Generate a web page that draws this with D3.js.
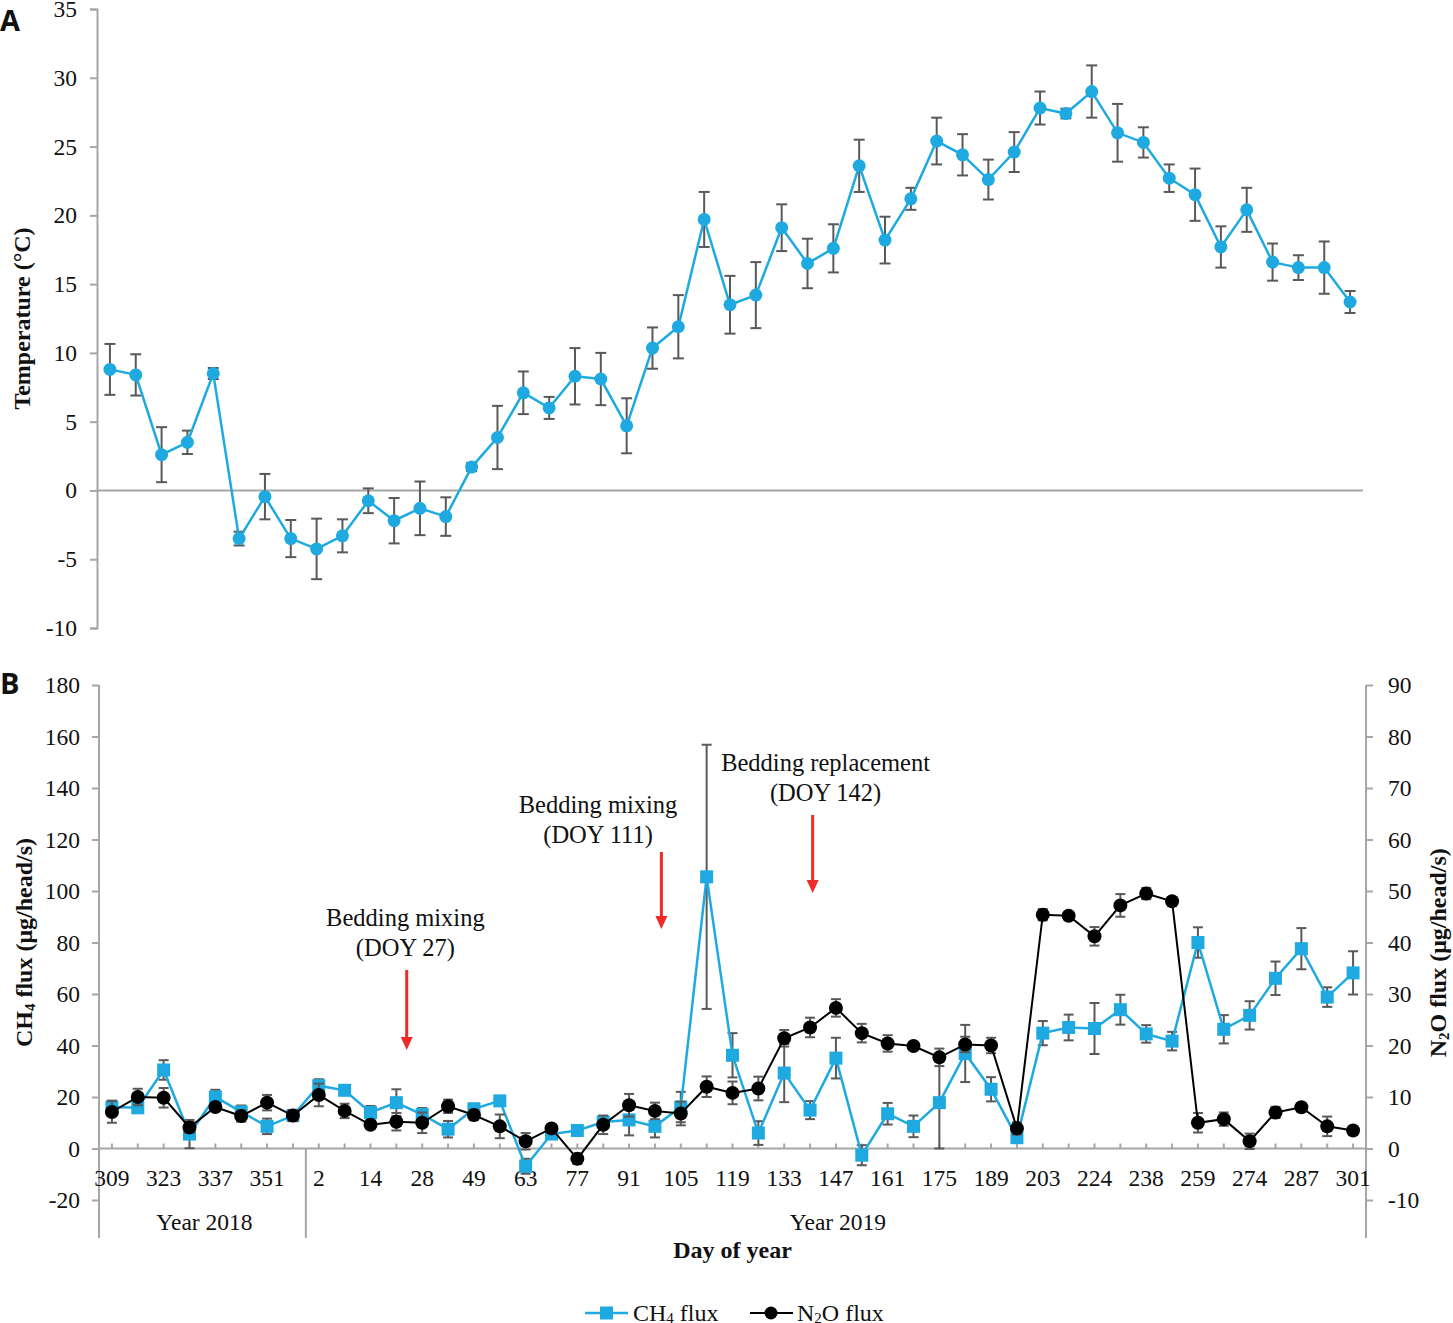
<!DOCTYPE html>
<html>
<head>
<meta charset="utf-8">
<script src="https://cdn.jsdelivr.net/npm/d3@7"></script>
<style>
  html, body { margin: 0; padding: 0; background: #fff; }
  svg { display: block; }
  svg text { font-family: "Liberation Serif", "Times New Roman", serif !important; fill: #111; }
  svg text.sans { font-family: "Open Sans", "DejaVu Sans", sans-serif !important; }
</style>
</head>
<body>
<svg id="chart" width="1453" height="1323"></svg>
<script>
// ---------------- DATA ----------------
const days = [309, 316, 323, 330, 337, 344, 351, 358,
              2, 8, 14, 21, 28, 35, 49, 56, 63, 70, 77, 84, 91, 98, 105, 112, 119, 126,
              133, 140, 147, 154, 161, 168, 175, 182, 189, 196, 203, 210, 224, 231, 238, 245,
              259, 266, 274, 280, 287, 294, 301];
const labeledDays = [309, 323, 337, 351, 2, 14, 28, 49, 63, 77, 91, 105, 119, 133, 147,
                     161, 175, 189, 203, 224, 238, 259, 274, 287, 301];
const yearGroups = ["Year 2018", "Year 2019"];
const yearSizes = [8, 41];

const temperature = [8.8, 8.4, 2.6, 3.5, 8.5, -3.5, -0.45, -3.5, -4.25, -3.3, -0.75, -2.2, -1.3, -1.9,
  1.7, 3.85, 7.1, 6.0, 8.3, 8.1, 4.7, 10.35, 11.9, 19.7, 13.5, 14.2, 19.1, 16.5, 17.6, 23.6, 18.2, 21.2,
  25.4, 24.4, 22.6, 24.6, 27.8, 27.4, 29.0, 26.0, 25.3, 22.7, 21.5, 17.7, 20.4, 16.6, 16.2, 16.2, 13.7];
const temperatureErr = [1.85, 1.5, 2.0, 0.85, 0.4, 0.5, 1.65, 1.35, 2.2, 1.2, 0.9, 1.65, 1.95, 1.4,
  0.3, 2.3, 1.55, 0.8, 2.05, 1.9, 2.0, 1.5, 2.3, 2.0, 2.1, 2.4, 1.7, 1.8, 1.75, 1.9, 1.7, 0.8,
  1.7, 1.5, 1.45, 1.45, 1.2, 0.35, 1.9, 2.1, 1.1, 1.0, 1.9, 1.5, 1.6, 1.35, 0.9, 1.9, 0.8];

const ch4Flux = [16.1, 15.8, 30.5, 5.6, 20.0, 14.2, 8.6, 12.8, 24.4, 22.6, 14.0, 17.8, 13.2, 7.5, 15.4,
  18.5, -6.9, 5.6, 7.0, 10.3, 11.1, 8.6, 16.1, 105.5, 36.2, 6.0, 29.3, 14.9, 35.1, -2.6, 13.5, 8.6,
  17.8, 36.9, 23.0, 4.2, 44.8, 47.0, 46.6, 53.9, 44.5, 41.7, 80.0, 46.3, 51.7, 66.1, 77.6, 58.8, 68.2];
const ch4Err = [2.5, 1.0, 3.8, 5.5, 2.8, 2.5, 3.0, 2.0, 2.5, 1.5, 2.5, 5.2, 2.5, 3.2, 2.0,
  1.0, 2.9, 1.0, 1.0, 2.0, 6.0, 4.3, 5.9, 51.3, 8.6, 4.6, 11.3, 3.5, 7.9, 3.9, 4.2, 4.2,
  17.8, 11.1, 4.7, 2.0, 4.7, 5.0, 9.9, 5.8, 3.4, 3.6, 5.9, 5.5, 5.5, 6.5, 8.0, 3.8, 8.4];

const n2oFlux = [7.1, 10.0, 9.85, 4.1, 8.05, 6.3, 8.9, 6.4, 10.4, 7.3, 4.6, 5.2, 5.0, 8.2, 6.5,
  4.3, 1.4, 3.9, -2.0, 4.6, 8.4, 7.3, 6.8, 12.0, 10.8, 11.65, 21.4, 23.5, 27.3, 22.4, 20.4, 19.9,
  17.7, 20.2, 20.0, 3.9, 45.4, 45.2, 41.2, 47.2, 49.5, 48.0, 5.0, 5.7, 1.4, 7.0, 8.0, 4.3, 3.5];
const n2oErr = [2.1, 1.6, 1.9, 1.1, 0.7, 1.1, 1.5, 1.1, 2.2, 1.4, 0.6, 1.7, 2.0, 1.3, 1.0,
  2.3, 1.6, 0.7, 1.0, 1.8, 2.2, 1.6, 2.3, 2.0, 2.2, 2.3, 1.6, 1.9, 1.7, 1.8, 1.6, 0.5,
  1.7, 1.5, 1.5, 1.2, 1.1, 0.5, 1.8, 2.2, 1.1, 0.5, 1.9, 1.3, 1.5, 1.1, 0.7, 1.9, 0.5];

const tempTicks = [-10, -5, 0, 5, 10, 15, 20, 25, 30, 35];
const ch4Ticks = [-20, 0, 20, 40, 60, 80, 100, 120, 140, 160, 180];
const n2oTicks = [-10, 0, 10, 20, 30, 40, 50, 60, 70, 80, 90];

// annotations: text lines and arrow position expressed as fractional category index
const annotations = [
  { lines: ["Bedding mixing", "(DOY 27)"], at: 11.4, textAt: 11.35, textY: 918, arrowTop: 970, arrowBot: 1050 },
  { lines: ["Bedding mixing", "(DOY 111)"], at: 21.25, textAt: 18.8, textY: 805, arrowTop: 852, arrowBot: 929 },
  { lines: ["Bedding replacement", "(DOY 142)"], at: 27.1, textAt: 27.6, textY: 763, arrowTop: 815, arrowBot: 893 }
];

// ---------------- STYLE ----------------
const BLUE = "#1EAAE0";
const AXIS = "#A6A6A6";
const ERR = "#595959";
const FS = 23.5;
const fmt = d => String(d);

const svg = d3.select("#chart");
const idx = d3.range(days.length);

function errorBars(g, x, y, vals, errs, capW) {
  const eg = g.append("g");
  idx.forEach(i => {
    const cx = x(i), y1 = y(vals[i] + errs[i]), y2 = y(vals[i] - errs[i]);
    eg.append("line").attr("x1", cx).attr("x2", cx).attr("y1", y1).attr("y2", y2)
      .attr("stroke", ERR).attr("stroke-width", 2);
    [y1, y2].forEach(yy => eg.append("line").attr("x1", cx - capW / 2).attr("x2", cx + capW / 2)
      .attr("y1", yy).attr("y2", yy).attr("stroke", ERR).attr("stroke-width", 2));
  });
}

// ---------------- PANEL A ----------------
{
  const xA = d3.scalePoint().domain(idx).range([97, 1363]).padding(0.5);
  const yA = d3.scaleLinear().domain([-10, 35]).range([628, 9]);
  const g = svg.append("g");

  const axL = d3.axisLeft(yA).tickValues(tempTicks).tickSize(7).tickFormat(fmt);
  const ga = g.append("g").attr("transform", "translate(97,0)").call(axL);
  ga.select(".domain").attr("stroke", AXIS).attr("stroke-width", 2);
  ga.selectAll(".tick line").attr("stroke", AXIS).attr("stroke-width", 2);
  ga.selectAll(".tick text").attr("font-size", FS).attr("fill", "#111").attr("x", -20);

  g.append("line").attr("x1", 97).attr("x2", 1363).attr("y1", yA(0)).attr("y2", yA(0))
    .attr("stroke", AXIS).attr("stroke-width", 2);

  errorBars(g, xA, yA, temperature, temperatureErr, 11);

  g.append("path").datum(idx)
    .attr("d", d3.line().x(i => xA(i)).y(i => yA(temperature[i])))
    .attr("fill", "none").attr("stroke", BLUE).attr("stroke-width", 2.5);
  g.selectAll("circle.t").data(idx).join("circle").attr("class", "t")
    .attr("cx", i => xA(i)).attr("cy", i => yA(temperature[i])).attr("r", 6.5).attr("fill", BLUE);

  g.append("text").attr("transform", `translate(30,${yA(12.5)}) rotate(-90)`)
    .attr("text-anchor", "middle").attr("font-size", 24).attr("font-weight", "bold")
    .text("Temperature (°C)");

  svg.append("text").attr("class", "sans").attr("x", 0).attr("y", 31).attr("font-size", 29)
    .attr("font-weight", "bold").text("A");
}

// ---------------- PANEL B ----------------
{
  const xB = d3.scalePoint().domain(idx).range([99, 1366]).padding(0.5);
  const yL = d3.scaleLinear().domain([-20, 180]).range([1200, 685]);
  const yR = d3.scaleLinear().domain([-10, 90]).range([1200, 685]);
  const step = xB.step();
  const g = svg.append("g");
  const bottom = 1238;

  // left axis
  const gl = g.append("g").attr("transform", "translate(99,0)")
    .call(d3.axisLeft(yL).tickValues(ch4Ticks).tickSize(7).tickFormat(fmt));
  gl.select(".domain").remove();
  gl.selectAll(".tick line").attr("stroke", AXIS).attr("stroke-width", 2);
  gl.selectAll(".tick text").attr("font-size", FS).attr("fill", "#111").attr("x", -19);
  g.append("line").attr("x1", 99).attr("x2", 99).attr("y1", 685).attr("y2", bottom)
    .attr("stroke", AXIS).attr("stroke-width", 2);

  // right axis
  const gr = g.append("g").attr("transform", "translate(1366,0)")
    .call(d3.axisRight(yR).tickValues(n2oTicks).tickSize(7).tickFormat(fmt));
  gr.select(".domain").remove();
  gr.selectAll(".tick line").attr("stroke", AXIS).attr("stroke-width", 2);
  gr.selectAll(".tick text").attr("font-size", FS).attr("fill", "#111").attr("x", 22);
  g.append("line").attr("x1", 1366).attr("x2", 1366).attr("y1", 685).attr("y2", bottom)
    .attr("stroke", AXIS).attr("stroke-width", 2);

  // category axis at zero
  const y0 = yL(0);
  g.append("line").attr("x1", 99).attr("x2", 1366).attr("y1", y0).attr("y2", y0)
    .attr("stroke", AXIS).attr("stroke-width", 2);
  g.selectAll("line.xt").data(idx).join("line").attr("class", "xt")
    .attr("x1", i => xB(i)).attr("x2", i => xB(i)).attr("y1", y0 - 5).attr("y2", y0)
    .attr("stroke", AXIS).attr("stroke-width", 2);
  g.selectAll("text.xl").data(idx.filter(i => labeledDays.includes(days[i]) && i % 2 === 0))
    .join("text").attr("class", "xl")
    .attr("x", i => xB(i)).attr("y", y0 + 37).attr("text-anchor", "middle").attr("font-size", FS)
    .text(i => days[i]);

  // year grouping
  let start = 0;
  yearGroups.forEach((name, k) => {
    const end = start + yearSizes[k];
    const xs = xB(start) - step / 2, xe = xB(end - 1) + step / 2;
    if (k > 0) {
      g.append("line").attr("x1", xs).attr("x2", xs).attr("y1", y0).attr("y2", bottom)
        .attr("stroke", AXIS).attr("stroke-width", 2);
    }
    g.append("text").attr("x", (xs + xe) / 2 + 2).attr("y", 1230).attr("text-anchor", "middle")
      .attr("font-size", FS).text(name);
    start = end;
  });

  // CH4 series
  errorBars(g, xB, yL, ch4Flux, ch4Err, 10);
  g.append("path").datum(idx)
    .attr("d", d3.line().x(i => xB(i)).y(i => yL(ch4Flux[i])))
    .attr("fill", "none").attr("stroke", BLUE).attr("stroke-width", 2.5);
  g.selectAll("rect.c").data(idx).join("rect").attr("class", "c")
    .attr("x", i => xB(i) - 6.5).attr("y", i => yL(ch4Flux[i]) - 6.5)
    .attr("width", 13).attr("height", 13).attr("fill", BLUE);

  // N2O series
  errorBars(g, xB, yR, n2oFlux, n2oErr, 10);
  g.append("path").datum(idx)
    .attr("d", d3.line().x(i => xB(i)).y(i => yR(n2oFlux[i])))
    .attr("fill", "none").attr("stroke", "#000").attr("stroke-width", 2);
  g.selectAll("circle.n").data(idx).join("circle").attr("class", "n")
    .attr("cx", i => xB(i)).attr("cy", i => yR(n2oFlux[i])).attr("r", 7).attr("fill", "#000");

  // annotations
  const xf = f => xB(0) + f * step;
  annotations.forEach(a => {
    a.lines.forEach((ln, j) => {
      g.append("text").attr("x", xf(a.textAt)).attr("y", a.textY + j * 30 + 8)
        .attr("text-anchor", "middle").attr("font-size", 24.5).text(ln);
    });
    const ax = xf(a.at);
    g.append("line").attr("x1", ax).attr("x2", ax).attr("y1", a.arrowTop).attr("y2", a.arrowBot - 10)
      .attr("stroke", "#EE2A2A").attr("stroke-width", 3);
    g.append("path").attr("d", `M${ax - 6},${a.arrowBot - 13} L${ax + 6},${a.arrowBot - 13} L${ax},${a.arrowBot} Z`)
      .attr("fill", "#EE2A2A");
  });

  // axis titles
  const tl = g.append("text").attr("transform", `translate(32,${yL(80)}) rotate(-90)`)
    .attr("text-anchor", "middle").attr("font-size", 24).attr("font-weight", "bold");
  tl.append("tspan").text("CH");
  tl.append("tspan").attr("font-size", 15).attr("dy", 3).text("4");
  tl.append("tspan").attr("dy", -3).text(" flux (μg/head/s)");

  const tr = g.append("text").attr("transform", `translate(1446,${yR(38)}) rotate(-90)`)
    .attr("text-anchor", "middle").attr("font-size", 24).attr("font-weight", "bold");
  tr.append("tspan").text("N");
  tr.append("tspan").attr("font-size", 15).attr("dy", 3).text("2");
  tr.append("tspan").attr("dy", -3).text("O flux (μg/head/s)");

  g.append("text").attr("x", (xB(0) + xB(days.length - 1)) / 2).attr("y", 1258)
    .attr("text-anchor", "middle").attr("font-size", 24).attr("font-weight", "bold").text("Day of year");

  svg.append("text").attr("class", "sans").attr("x", 0).attr("y", 694).attr("font-size", 29)
    .attr("font-weight", "bold").text("B");

  // legend
  const lg = svg.append("g").attr("transform", "translate(0,1313)");
  lg.append("line").attr("x1", 585).attr("x2", 628).attr("y1", 0).attr("y2", 0)
    .attr("stroke", BLUE).attr("stroke-width", 2.5);
  lg.append("rect").attr("x", 600).attr("y", -6.5).attr("width", 13).attr("height", 13).attr("fill", BLUE);
  const t1 = lg.append("text").attr("x", 633).attr("y", 8).attr("font-size", 24);
  t1.append("tspan").text("CH");
  t1.append("tspan").attr("font-size", 15).attr("dy", 2).text("4");
  t1.append("tspan").attr("dy", -2).text(" flux");

  lg.append("line").attr("x1", 750).attr("x2", 793).attr("y1", 0).attr("y2", 0)
    .attr("stroke", "#000").attr("stroke-width", 2);
  lg.append("circle").attr("cx", 771).attr("cy", 0).attr("r", 6.5).attr("fill", "#000");
  const t2 = lg.append("text").attr("x", 797).attr("y", 8).attr("font-size", 24);
  t2.append("tspan").text("N");
  t2.append("tspan").attr("font-size", 15).attr("dy", 2).text("2");
  t2.append("tspan").attr("dy", -2).text("O flux");
}
</script>
</body>
</html>
